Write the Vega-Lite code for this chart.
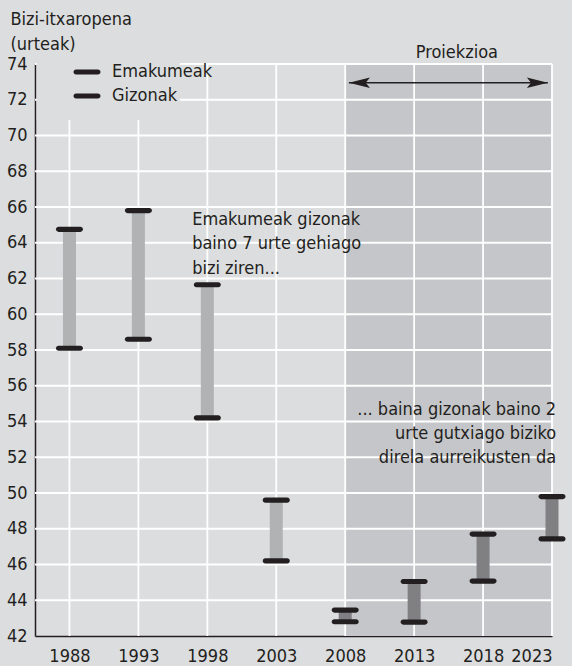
{
  "$schema": "https://vega.github.io/schema/vega-lite/v6.json",
  "width": 517,
  "height": 572,
  "autosize": {"type": "none"},
  "padding": {"left": 35, "top": 64, "right": 20, "bottom": 30},
  "background": "#dcdddf",
  "config": {
    "font": "Liberation Sans Narrow, Noto Sans Condensed, DejaVu Sans Condensed, Liberation Sans, sans-serif",
    "view": {"stroke": null},
    "axis": {
      "zindex": 1,
      "grid": false,
      "domainColor": "#231f20",
      "domainWidth": 1.5,
      "ticks": false,
      "labelOverlap": false,
      "labelFontSize": 18,
      "labelColor": "#231f20",
      "labelFont": "Liberation Sans Narrow, Noto Sans Condensed, DejaVu Sans Condensed, Liberation Sans, sans-serif"
    }
  },
  "datasets": {
    "bizi": [
      {"year": 1988, "Emakumeak": 64.75, "Gizonak": 58.1, "aldia": "historikoa"},
      {"year": 1993, "Emakumeak": 65.8, "Gizonak": 58.6, "aldia": "historikoa"},
      {"year": 1998, "Emakumeak": 61.65, "Gizonak": 54.2, "aldia": "historikoa"},
      {"year": 2003, "Emakumeak": 49.6, "Gizonak": 46.2, "aldia": "historikoa"},
      {"year": 2008, "Emakumeak": 42.8, "Gizonak": 43.45, "aldia": "proiekzioa"},
      {"year": 2013, "Emakumeak": 42.78, "Gizonak": 45.05, "aldia": "proiekzioa"},
      {"year": 2018, "Emakumeak": 45.07, "Gizonak": 47.7, "aldia": "proiekzioa"},
      {"year": 2023, "Emakumeak": 47.43, "Gizonak": 49.8, "aldia": "proiekzioa"}
    ],
    "urteMarrak": [
      {"year": 1988}, {"year": 1993}, {"year": 1998}, {"year": 2003},
      {"year": 2008}, {"year": 2013}, {"year": 2018}, {"year": 2023}
    ],
    "balioMarrak": [
      {"balioa": 44}, {"balioa": 46}, {"balioa": 48}, {"balioa": 50}, {"balioa": 52},
      {"balioa": 54}, {"balioa": 56}, {"balioa": 58}, {"balioa": 60}, {"balioa": 62},
      {"balioa": 64}, {"balioa": 66}, {"balioa": 68}, {"balioa": 70}, {"balioa": 72}, {"balioa": 74}
    ]
  },
  "resolve": {"scale": {"color": "independent"}},
  "layer": [
    {
      "data": {"values": [{"hasi": 2008, "amaitu": 2023, "behe": 42, "goi": 74}]},
      "mark": {"type": "rect", "fill": "#c5c6c9"},
      "encoding": {
        "x": {
          "field": "hasi", "type": "quantitative",
          "scale": {"domain": [1985.5, 2023], "nice": false, "zero": false},
          "axis": {"values": [1988, 1993, 1998, 2003, 2008, 2013, 2018, 2023], "tickCount": 20, "format": "d", "labelPadding": 11, "title": null, "labelOverlap": false}
        },
        "x2": {"field": "amaitu"},
        "y": {
          "field": "behe", "type": "quantitative",
          "scale": {"domain": [42, 74], "nice": false, "zero": false},
          "axis": {
            "values": [42, 44, 46, 48, 50, 52, 54, 56, 58, 60, 62, 64, 66, 68, 70, 72, 74],
            "tickCount": 40,
            "labelOverlap": false,
            "labelPadding": 8,
            "title": ["Bizi-itxaropena", "(urteak)"],
            "titleAngle": 0,
            "titleX": -25,
            "titleY": -54,
            "titleAlign": "left",
            "titleBaseline": "top",
            "titleFontSize": 18,
            "titleFontWeight": "normal",
            "titleLineHeight": 25,
            "titleColor": "#231f20",
            "titleFont": "Liberation Sans Narrow, Noto Sans Condensed, DejaVu Sans Condensed, Liberation Sans, sans-serif"
          }
        },
        "y2": {"field": "goi"}
      }
    },
    {
      "data": {"name": "urteMarrak"},
      "mark": {"type": "rule", "color": "#ffffff", "strokeWidth": 1.8},
      "encoding": {
        "x": {"field": "year", "type": "quantitative"}
      }
    },
    {
      "data": {"name": "balioMarrak"},
      "mark": {"type": "rule", "color": "#ffffff", "strokeWidth": 1.8},
      "encoding": {
        "y": {"field": "balioa", "type": "quantitative"}
      }
    },
    {
      "data": {"values": [{"hasi": 1985.62, "amaitu": 1996, "behe": 70.87, "goi": 74.3}]},
      "mark": {"type": "rect", "fill": "#dcdddf"},
      "encoding": {
        "x": {"field": "hasi", "type": "quantitative"},
        "x2": {"field": "amaitu"},
        "y": {"field": "behe", "type": "quantitative"},
        "y2": {"field": "goi"}
      }
    },
    {
      "data": {"name": "bizi"},
      "mark": {"type": "rule", "strokeWidth": 13, "strokeCap": "butt"},
      "encoding": {
        "x": {"field": "year", "type": "quantitative"},
        "y": {"field": "Emakumeak", "type": "quantitative"},
        "y2": {"field": "Gizonak"},
        "color": {
          "field": "aldia", "type": "nominal",
          "scale": {"domain": ["historikoa", "proiekzioa"], "range": ["#b1b2b4", "#808083"]},
          "legend": null
        }
      }
    },
    {
      "data": {"name": "bizi"},
      "transform": [{"fold": ["Emakumeak", "Gizonak"], "as": ["sexua", "balioa"]}],
      "mark": {
        "type": "point",
        "filled": true,
        "opacity": 1,
        "size": 661,
        "strokeWidth": 0,
        "shape": "M-0.85,-0.2L0.85,-0.2A0.2,0.2,0,0,1,0.85,0.2L-0.85,0.2A0.2,0.2,0,0,1,-0.85,-0.2Z"
      },
      "encoding": {
        "x": {"field": "year", "type": "quantitative"},
        "y": {"field": "balioa", "type": "quantitative"},
        "color": {
          "field": "sexua", "type": "nominal",
          "scale": {"domain": ["Emakumeak", "Gizonak"], "range": ["#231f20", "#231f20"]},
          "legend": {
            "orient": "none",
            "legendX": 39,
            "legendY": -5,
            "title": null,
            "padding": 0,
            "symbolType": "M-0.85,-0.2L0.85,-0.2A0.2,0.2,0,0,1,0.85,0.2L-0.85,0.2A0.2,0.2,0,0,1,-0.85,-0.2Z",
            "symbolSize": 661,
            "symbolStrokeWidth": 0,
            "symbolOpacity": 1,
            "labelFontSize": 18,
            "labelColor": "#231f20",
            "labelFont": "Liberation Sans Narrow, Noto Sans Condensed, DejaVu Sans Condensed, Liberation Sans, sans-serif",
            "labelOffset": 12,
            "rowPadding": 2
          }
        }
      }
    },
    {
      "data": {"values": [{"hasi": 2008.27, "amaitu": 2022.7, "maila": 72.95}]},
      "mark": {"type": "rule", "color": "#231f20", "strokeWidth": 1.5},
      "encoding": {
        "x": {"field": "hasi", "type": "quantitative"},
        "x2": {"field": "amaitu"},
        "y": {"field": "maila", "type": "quantitative"}
      }
    },
    {
      "data": {"values": [
        {"punta": 2008.27, "maila": 72.95, "norabidea": "ezker"},
        {"punta": 2022.7, "maila": 72.95, "norabidea": "eskuin"}
      ]},
      "mark": {"type": "point", "filled": true, "opacity": 1, "size": 441, "color": "#231f20", "strokeWidth": 0},
      "encoding": {
        "x": {"field": "punta", "type": "quantitative"},
        "y": {"field": "maila", "type": "quantitative"},
        "shape": {
          "field": "norabidea", "type": "nominal",
          "scale": {"domain": ["ezker", "eskuin"], "range": ["M0,0L2,-0.5L1.6,0L2,0.5Z", "M0,0L-2,-0.5L-1.6,0L-2,0.5Z"]},
          "legend": null
        }
      }
    },
    {
      "data": {"values": [{"x": 2016.1, "y": 75.12, "testua": "Proiekzioa"}]},
      "mark": {"type": "text", "align": "center", "baseline": "top", "fontSize": 18, "color": "#231f20"},
      "encoding": {
        "x": {"field": "x", "type": "quantitative"},
        "y": {"field": "y", "type": "quantitative"},
        "text": {"field": "testua"}
      }
    },
    {
      "data": {"values": [{"x": 1996.9, "y": 65.78, "testua": "Emakumeak gizonak\nbaino 7 urte gehiago\nbizi ziren..."}]},
      "mark": {"type": "text", "align": "left", "baseline": "top", "fontSize": 18, "lineHeight": 24.5, "lineBreak": "\n", "color": "#231f20"},
      "encoding": {
        "x": {"field": "x", "type": "quantitative"},
        "y": {"field": "y", "type": "quantitative"},
        "text": {"field": "testua"}
      }
    },
    {
      "data": {"values": [{"x": 2023.3, "y": 55.16, "testua": "... baina gizonak baino 2\nurte gutxiago biziko\ndirela aurreikusten da"}]},
      "mark": {"type": "text", "align": "right", "baseline": "top", "fontSize": 18, "lineHeight": 24, "lineBreak": "\n", "color": "#231f20"},
      "encoding": {
        "x": {"field": "x", "type": "quantitative"},
        "y": {"field": "y", "type": "quantitative"},
        "text": {"field": "testua"}
      }
    }
  ]
}
